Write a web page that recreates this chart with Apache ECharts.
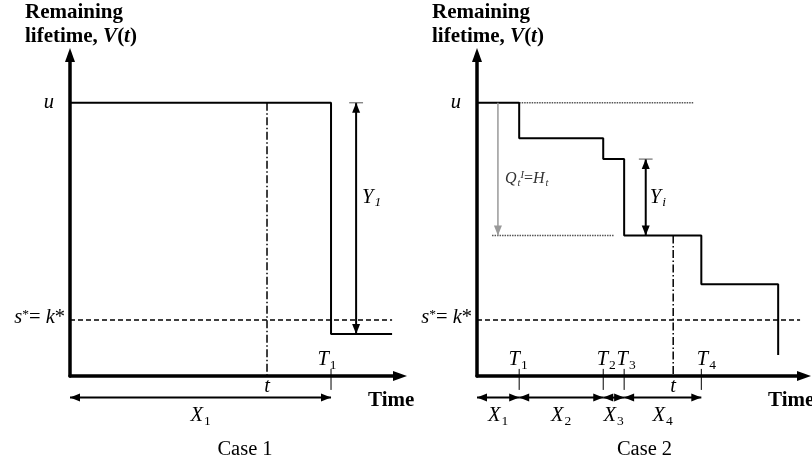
<!DOCTYPE html>
<html>
<head>
<meta charset="utf-8">
<script src="https://cdn.jsdelivr.net/npm/echarts@6/dist/echarts.min.js"></script>
<style>
  html, body { margin: 0; padding: 0; background: #fff; }
  #chart { width: 812px; height: 467px; }
</style>
</head>
<body>
<div id="chart"></div>
<script>
// ---------- values (time on 0..10, remaining lifetime on 0..11.75) ----------
const uLevel = 10;                 // initial remaining lifetime u
const threshold = 2.05;            // s* = k*

// Case 1: one jump straight below the threshold
const c1JumpTimes = [7.91];
const c1Levels = [10, 1.54];
const c1LastEnd = 9.76;
const c1InspectTime = 5.97;        // t
const c1ThresholdEnd = 9.76;
const c1JumpArrowX = 8.67;         // where Y1 is drawn

// Case 2: successive smaller jumps
const c2JumpTimes = [1.29, 3.86, 4.50, 6.86, 9.21];
const c2Levels = [10, 8.70, 7.94, 5.14, 3.36, 0.77];
const c2InspectTime = 6.00;        // t
const c2ThresholdEnd = 9.88;
const c2UGuideEnd = 6.62;          // dotted continuation of u
const c2HGuide = [0.46, 4.19];     // dotted line at the level reached by time t
const c2QArrowX = 0.64;            // Q_t^I = H_t arrow
const c2JumpArrowX = 5.16;         // Y_i arrow
const capHalf = 0.21;              // half width of the bar capping a jump arrow

// tick labels
const c1TickNames = ['1'];
const c2TickNames = ['1', '2', '3', '4'];

// ---------- helpers ----------
const FONT = '"Liberation Serif", "Times New Roman", serif';
const INK = '#000';

function stepPoints(jumps, levels, lastEnd) {
  const pts = [[0, levels[0]]];
  jumps.forEach((t, i) => {
    pts.push([t, levels[i]]);
    pts.push([t, levels[i + 1]]);
  });
  if (lastEnd != null) pts.push([lastEnd, levels[levels.length - 1]]);
  return pts;
}

function lineSeries(gi, data, style, z) {
  return {
    type: 'line', xAxisIndex: gi, yAxisIndex: gi, data,
    showSymbol: false, symbol: 'none', silent: true, animation: false,
    lineStyle: Object.assign({ color: INK, width: 2 }, style), z: z || 3
  };
}

// arrow head with its tip on "to"
function head(from, to, color, len, half) {
  const dx = to[0] - from[0], dy = to[1] - from[1];
  const d = Math.hypot(dx, dy) || 1;
  const ux = dx / d, uy = dy / d;
  const bx = to[0] - ux * len, by = to[1] - uy * len;
  return {
    type: 'polygon',
    shape: { points: [[to[0], to[1]], [bx - uy * half, by + ux * half], [bx + uy * half, by - ux * half]] },
    style: { fill: color }
  };
}

// items: [x1, y1, x2, y2, headAtStart, headAtEnd]
function segmentSeries(gi, items, color, width, z) {
  return {
    type: 'custom', xAxisIndex: gi, yAxisIndex: gi, data: items,
    clip: false, silent: true, animation: false, z: z || 4,
    renderItem(params, api) {
      const p1 = api.coord([api.value(0), api.value(1)]);
      const p2 = api.coord([api.value(2), api.value(3)]);
      const children = [{
        type: 'line',
        shape: { x1: p1[0], y1: p1[1], x2: p2[0], y2: p2[1] },
        style: { stroke: color, lineWidth: width }
      }];
      if (api.value(4)) children.push(head(p2, p1, color, 10, 4));
      if (api.value(5)) children.push(head(p1, p2, color, 10, 4));
      return { type: 'group', children };
    }
  };
}

function intervals(bounds) {
  const out = [];
  for (let i = 0; i < bounds.length - 1; i++) out.push([bounds[i], bounds[i + 1]]);
  return out;
}

const axisBase = {
  type: 'value', axisTick: { show: false }, axisLabel: { show: false },
  splitLine: { show: false },
  axisLine: {
    show: true, onZero: false, symbol: ['none', 'triangle'], symbolSize: [10, 14],
    lineStyle: { color: INK, width: 3.5 }
  }
};

const grids = [
  { left: 70, top: 55, width: 330, height: 321 },
  { left: 477, top: 55, width: 327, height: 321 }
];

const xAxes = [0, 1].map(i => Object.assign({}, axisBase, { gridIndex: i, min: 0, max: 10 }));
const yAxes = [0, 1].map(i => Object.assign({}, axisBase, { gridIndex: i, min: 0, max: 11.75 }));

const dashDot = [8, 2.5, 1.5, 2.5];
const tickLow = -0.51, tickHigh = 0.26, spanY = -0.79;

const c1Bounds = [0].concat(c1JumpTimes);
const c2Bounds = [0].concat(c2JumpTimes.slice(0, c2TickNames.length));

const series = [
  // Case 1
  lineSeries(0, stepPoints(c1JumpTimes, c1Levels, c1LastEnd), {}),
  lineSeries(0, [[c1InspectTime, uLevel], [c1InspectTime, 0]], { width: 1.5, type: dashDot }, 2),
  lineSeries(0, [[0, threshold], [c1ThresholdEnd, threshold]], { width: 1.5, type: [5, 3] }, 2),
  segmentSeries(0, [[c1JumpArrowX, c1Levels[0], c1JumpArrowX, c1Levels[1], 1, 1]], INK, 2),
  segmentSeries(0, [[c1JumpArrowX - capHalf, c1Levels[0], c1JumpArrowX + capHalf, c1Levels[0], 0, 0]], '#555', 1),
  segmentSeries(0, c1JumpTimes.map(t => [t, tickHigh, t, tickLow, 0, 0]), INK, 1),
  segmentSeries(0, intervals(c1Bounds).map(([a, b]) => [a, spanY, b, spanY, 1, 1]), INK, 2),

  // Case 2
  lineSeries(1, stepPoints(c2JumpTimes, c2Levels, null), {}),
  lineSeries(1, [[c2JumpTimes[0], uLevel], [c2UGuideEnd, uLevel]], { width: 1.5, type: [1.5, 1], color: '#555' }, 2),
  lineSeries(1, [[c2HGuide[0], c2Levels[3]], [c2HGuide[1], c2Levels[3]]], { width: 1.5, type: [1.5, 1], color: '#555' }, 2),
  lineSeries(1, [[c2InspectTime, c2Levels[3]], [c2InspectTime, 0]], { width: 1.5, type: dashDot }, 2),
  lineSeries(1, [[0, threshold], [c2ThresholdEnd, threshold]], { width: 1.5, type: [5, 3] }, 2),
  segmentSeries(1, [[c2QArrowX, uLevel, c2QArrowX, c2Levels[3], 0, 1]], '#999', 1.5),
  segmentSeries(1, [[c2JumpArrowX, c2Levels[2], c2JumpArrowX, c2Levels[3], 1, 1]], INK, 2),
  segmentSeries(1, [[c2JumpArrowX - capHalf, c2Levels[2], c2JumpArrowX + capHalf, c2Levels[2], 0, 0]], '#555', 1),
  segmentSeries(1, c2Bounds.slice(1).map(t => [t, tickHigh, t, tickLow, 0, 0]), INK, 1),
  segmentSeries(1, intervals(c2Bounds).map(([a, b]) => [a, spanY, b, spanY, 1, 1]), INK, 2)
];

const chart = echarts.init(document.getElementById('chart'), null, { renderer: 'canvas' });
chart.setOption({
  animation: false,
  backgroundColor: '#fff',
  grid: grids,
  xAxis: xAxes,
  yAxis: yAxes,
  series
});

// ---------- text ----------
const rich = {
  r:   { fontFamily: FONT, fontSize: 20.5 },
  i:   { fontFamily: FONT, fontSize: 20.5, fontStyle: 'italic' },
  b:   { fontFamily: FONT, fontSize: 21, fontWeight: 'bold', lineHeight: 24 },
  bi:  { fontFamily: FONT, fontSize: 21, fontWeight: 'bold', fontStyle: 'italic', lineHeight: 24 },
  sub: { fontFamily: FONT, fontSize: 13.5, padding: [10, 0, 0, 1] },
  subi:{ fontFamily: FONT, fontSize: 13.5, fontStyle: 'italic', padding: [10, 0, 0, 1] },
  sup: { fontFamily: FONT, fontSize: 13.5, padding: [0, 0, 8, 0] },
  q:   { fontFamily: FONT, fontSize: 16, fill: '#333' },
  qi:  { fontFamily: FONT, fontSize: 16, fontStyle: 'italic', fill: '#333' },
  qsub:{ fontFamily: FONT, fontSize: 10.5, fontStyle: 'italic', fill: '#333', padding: [8, 0, 0, 1] },
  qsup:{ fontFamily: FONT, fontSize: 10.5, fontStyle: 'italic', fill: '#333', padding: [0, 0, 7, 0] }
};

function txt(x, y, text, align, vAlign) {
  return {
    type: 'text', x, y, z: 100, silent: true,
    style: { text, rich, fill: INK, align: align || 'left', verticalAlign: vAlign || 'middle',
             fontFamily: FONT, fontSize: 20 }
  };
}
function at(gi, x, y, dx, dy, text, align) {
  const p = chart.convertToPixel({ gridIndex: gi }, [x, y]);
  return txt(p[0] + dx, p[1] + dy, text, align);
}

const graphics = [];
const yTitle = '{b|Remaining}\n{b|lifetime, }{bi|V}{b|(}{bi|t}{b|)}';
const timeShift = [-32, -36];
const caseShift = [10, 4];
[0, 1].forEach(gi => {
  const origin = chart.convertToPixel({ gridIndex: gi }, [0, 0]);
  graphics.push(txt(origin[0] - 45, 1, yTitle, 'left', 'top'));
  graphics.push(at(gi, 0, uLevel, -16, 0, '{i|u}', 'right'));
  graphics.push(at(gi, 0, threshold, -5, -2, '{i|s}{sup|*}{r|= }{i|k}{r|*}', 'right'));
  graphics.push(at(gi, 10, 0, timeShift[gi], 25, '{b|Time}', 'left'));
  graphics.push(at(gi, 5, 0, caseShift[gi], 74, '{r|Case ' + (gi + 1) + '}', 'center'));
});

// Case 1 labels
const c1Nudge = [-4];
c1JumpTimes.forEach((t, k) => graphics.push(at(0, t, 0, c1Nudge[k], -16, '{i|T}{sub|' + c1TickNames[k] + '}', 'center')));
graphics.push(at(0, c1InspectTime, 0, 0, 11, '{i|t}', 'center'));
intervals(c1Bounds).forEach(([a, b], k) => graphics.push(at(0, (a + b) / 2, 0, 0, 40, '{i|X}{sub|' + (k + 1) + '}', 'center')));
graphics.push(at(0, c1JumpArrowX, (c1Levels[0] + c1Levels[1]) / 2, 6, -21, '{i|Y}{subi|1}', 'left'));

// Case 2 labels
const c2Nudge = [-1, 3, 2, 5];
c2Bounds.slice(1).forEach((t, k) => graphics.push(at(1, t, 0, c2Nudge[k], -16, '{i|T}{sub|' + c2TickNames[k] + '}', 'center')));
graphics.push(at(1, c2InspectTime, 0, 0, 11, '{i|t}', 'center'));
intervals(c2Bounds).forEach(([a, b], k) => graphics.push(at(1, (a + b) / 2, 0, 0, 40, '{i|X}{sub|' + (k + 1) + '}', 'center')));
graphics.push(at(1, c2JumpArrowX, (c2Levels[2] + c2Levels[3]) / 2, 4, 0, '{i|Y}{subi|i}', 'left'));
graphics.push(at(1, c2QArrowX, (uLevel + c2Levels[3]) / 2, 7, 10, '{qi|Q}{qsub|t}{qsup|I}{q|=}{qi|H}{qsub|t}', 'left'));

chart.setOption({ graphic: graphics });
</script>
</body>
</html>
